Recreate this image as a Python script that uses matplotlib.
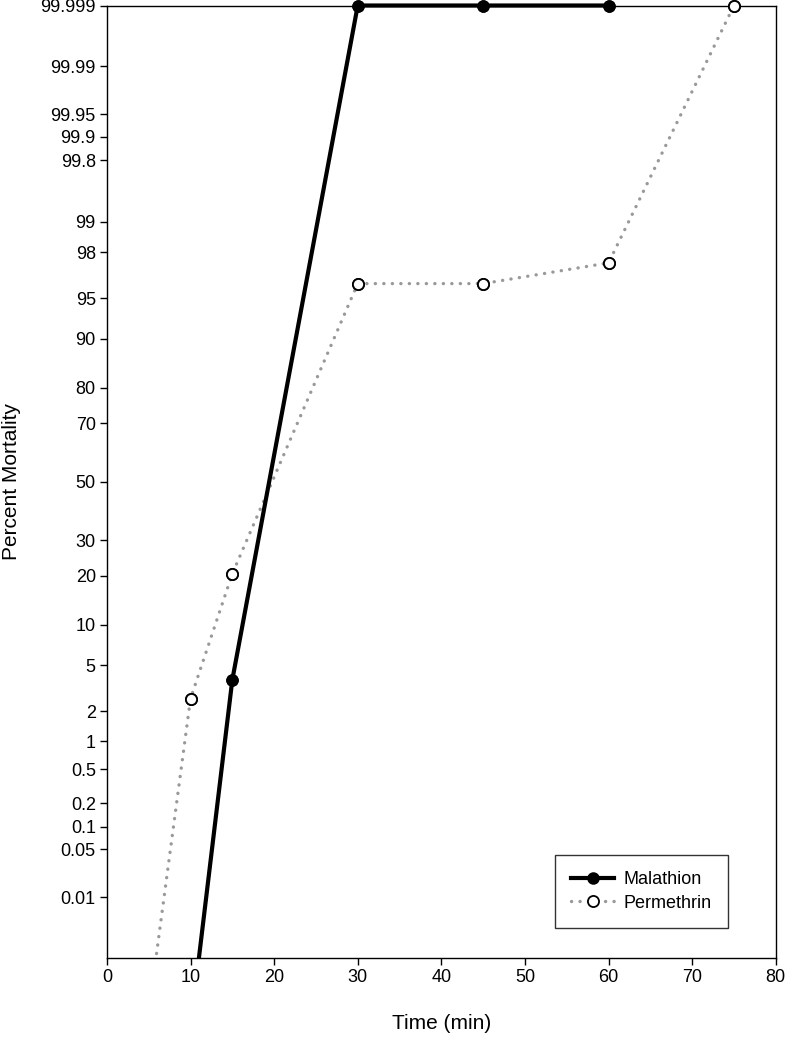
import numpy as np
import matplotlib.pyplot as plt
from matplotlib.patches import Rectangle
from statistics import NormalDist

plt.rcParams['font.family'] = ['Liberation Sans', 'DejaVu Sans']

# Data (percent mortality vs time)
mal_time = [10, 15, 30, 45, 60]
mal_pct = [0.00005, 3.8, 99.999, 99.999, 99.999]
per_time = [5, 10, 15, 30, 45, 60, 75]
per_pct = [0.0001, 2.6, 20.5, 96.2, 96.2, 97.5, 99.999]

ytick_vals = [0.01, 0.05, 0.1, 0.2, 0.5, 1, 2, 5, 10, 20, 30, 50, 70, 80,
              90, 95, 98, 99, 99.8, 99.9, 99.95, 99.99, 99.999]
ytick_labels = ['0.01', '0.05', '0.1', '0.2', '0.5', '1', '2', '5', '10', '20',
                '30', '50', '70', '80', '90', '95', '98', '99', '99.8', '99.9',
                '99.95', '99.99', '99.999']

_nd = NormalDist()
_ppf = np.vectorize(_nd.inv_cdf, otypes=[float])
_cdf = np.vectorize(_nd.cdf, otypes=[float])


def probit(p):
    p = np.clip(np.asarray(p, dtype=float) / 100.0, 1e-12, 1 - 1e-12)
    return _ppf(p)


def inv_probit(z):
    return _cdf(np.asarray(z, dtype=float)) * 100.0


fig = plt.figure(figsize=(7.86, 10.39), dpi=100)
ax = fig.add_axes([0.136, 0.078, 0.851, 0.9167])
ax.set_yscale('function', functions=(probit, inv_probit))

# lines clipped at the bottom only, markers drawn on top unclipped
vis_m = [i for i, v in enumerate(mal_pct) if v >= 0.001]
vis_p = [i for i, v in enumerate(per_pct) if v >= 0.001]

ms = 8
l1, = ax.plot(mal_time, mal_pct, color='black', lw=3.0, marker='o', ms=ms,
              mfc='black', mec='black', markevery=vis_m, label='Malathion',
              zorder=3)
l2, = ax.plot(per_time, per_pct, color='#999999', lw=2.4, ls=(0, (0.05, 2.5)),
              dash_capstyle='round', marker='o', ms=ms, mfc='white',
              mec='black', mew=1.3, markevery=vis_p, label='Permethrin',
              zorder=2)
for ln in (l1, l2):
    ln.set_clip_path(Rectangle((0, 0), 1, 1.01, transform=ax.transAxes))

ax.plot([mal_time[i] for i in vis_m], [mal_pct[i] for i in vis_m], ls='none',
        marker='o', ms=ms, mfc='black', mec='black', clip_on=False, zorder=4)
ax.plot([per_time[i] for i in vis_p], [per_pct[i] for i in vis_p], ls='none',
        marker='o', ms=ms, mfc='white', mec='black', mew=1.3, clip_on=False,
        zorder=4)

ax.set_xlim(0, 80)
ax.set_ylim(0.001, 99.999)
ax.set_xticks(np.arange(0, 81, 10))
ax.set_yticks(ytick_vals)
ax.set_yticklabels(ytick_labels)
ax.yaxis.set_minor_locator(plt.NullLocator())
ax.tick_params(axis='both', direction='out', length=5, width=1, labelsize=13,
               top=False, right=False, pad=3)
for s in ax.spines.values():
    s.set_linewidth(1)

ax.set_xlabel('Time (min)', fontsize=15, labelpad=20)
ax.set_ylabel('Percent Mortality', fontsize=15)
ax.yaxis.set_label_coords(-0.128, 0.5)

leg = ax.legend(loc='lower right', bbox_to_anchor=(0.928, 0.0315), fontsize=13,
                frameon=True, fancybox=False, edgecolor='black',
                handlelength=2.4, handletextpad=0.5, borderpad=0.9,
                labelspacing=0.35, borderaxespad=0)
leg.get_frame().set_linewidth(1)

fig.savefig('out.png', dpi=100)
